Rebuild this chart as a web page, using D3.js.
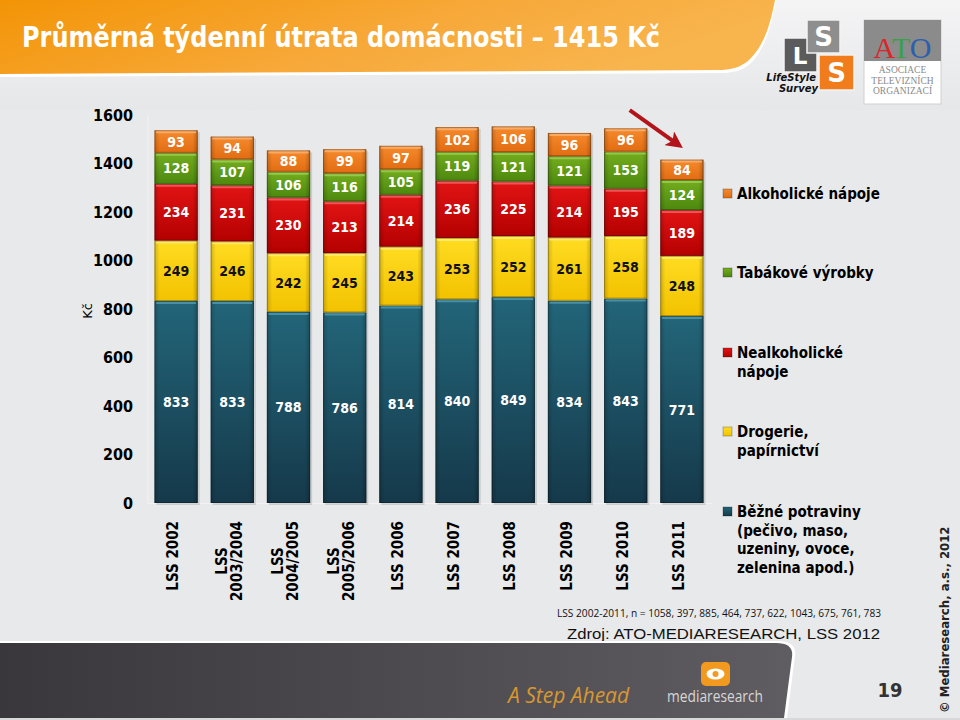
<!DOCTYPE html>
<html><head><meta charset="utf-8">
<script src="https://cdn.jsdelivr.net/npm/d3@7/dist/d3.min.js"></script>
<style>
body{margin:0;background:#e8e9eb;}
svg{display:block;}
</style></head>
<body>
<svg id="chart" width="960" height="720"></svg>
<script>
// ---------- DATA ----------
const categories = ["LSS 2002", "LSS\n2003/2004", "LSS\n2004/2005", "LSS\n2005/2006", "LSS 2006", "LSS 2007", "LSS 2008", "LSS 2009", "LSS 2010", "LSS 2011"];
const seriesKeys = ["potraviny", "drogerie", "nealko", "tabak", "alko"]; // stacking order bottom -> top
const seriesLabels = {
  alko: ["Alkoholické nápoje"],
  tabak: ["Tabákové výrobky"],
  nealko: ["Nealkoholické", "nápoje"],
  drogerie: ["Drogerie,", "papírnictví"],
  potraviny: ["Běžné potraviny", "(pečivo, maso,", "uzeniny, ovoce,", "zelenina apod.)"]
};
const potraviny = [833, 833, 788, 786, 814, 840, 849, 834, 843, 771];
const drogerie  = [249, 246, 242, 245, 243, 253, 252, 261, 258, 248];
const nealko    = [234, 231, 230, 213, 214, 236, 225, 214, 195, 189];
const tabak     = [128, 107, 106, 116, 105, 119, 121, 121, 153, 124];
const alko      = [93, 94, 88, 99, 97, 102, 106, 96, 96, 84];
const yTicks = [0, 200, 400, 600, 800, 1000, 1200, 1400, 1600];
const titleText = "Průměrná týdenní útrata domácnosti – 1415 Kč";
const footnote = "LSS 2002-2011, n = 1058, 397, 885, 464, 737, 622, 1043, 675, 761, 783";
const sourceText = "Zdroj: ATO-MEDIARESEARCH, LSS 2012";
const pageNumber = "19";
const copyright = "© Mediaresearch, a.s., 2012";

// ---------- SETUP ----------
const svg = d3.select("#chart");
const FONT = "'DejaVu Sans', Verdana, sans-serif";
const seriesValues = {potraviny, drogerie, nealko, tabak, alko};
const rows = categories.map((c, i) => {
  const r = {cat: c};
  seriesKeys.forEach(k => r[k] = seriesValues[k][i]);
  return r;
});
const colors = {
  potraviny: {top: "#236579", bot: "#15394a", hi: "#4f98ad", text: "#ffffff"},
  drogerie:  {top: "#ffdc22", bot: "#f2c200", hi: "#ffea70", text: "#111111"},
  nealko:    {top: "#e21414", bot: "#b40000", hi: "#f06060", text: "#ffffff"},
  tabak:     {top: "#74ad1e", bot: "#4c880e", hi: "#9ccc50", text: "#ffffff"},
  alko:      {top: "#f68a2c", bot: "#e26c12", hi: "#f9b070", text: "#ffffff"}
};

const defs = svg.append("defs");
seriesKeys.forEach(k => {
  const g = defs.append("linearGradient").attr("id", "g_" + k).attr("x1", 0).attr("x2", 0).attr("y1", 0).attr("y2", 1);
  g.append("stop").attr("offset", "0%").attr("stop-color", colors[k].top);
  g.append("stop").attr("offset", "100%").attr("stop-color", colors[k].bot);
  const h = defs.append("linearGradient").attr("id", "h_" + k).attr("x1", 0).attr("x2", 1).attr("y1", 0).attr("y2", 0);
  h.append("stop").attr("offset", "0%").attr("stop-color", "#000").attr("stop-opacity", 0.18);
  h.append("stop").attr("offset", "12%").attr("stop-color", "#000").attr("stop-opacity", 0);
  h.append("stop").attr("offset", "88%").attr("stop-color", "#000").attr("stop-opacity", 0);
  h.append("stop").attr("offset", "100%").attr("stop-color", "#000").attr("stop-opacity", 0.22);
});
const bg = defs.append("linearGradient").attr("id", "banner").attr("x1", 0).attr("x2", 1).attr("y1", 0).attr("y2", 0.3);
bg.append("stop").attr("offset", "0%").attr("stop-color", "#f39406");
bg.append("stop").attr("offset", "60%").attr("stop-color", "#f7a93a");
bg.append("stop").attr("offset", "100%").attr("stop-color", "#f8b54e");
const fg = defs.append("linearGradient").attr("id", "footer").attr("x1", 0).attr("x2", 1).attr("y1", 0).attr("y2", 0);
fg.append("stop").attr("offset", "0%").attr("stop-color", "#39373c");
fg.append("stop").attr("offset", "100%").attr("stop-color", "#5f5d62");
const tg = defs.append("linearGradient").attr("id", "topbg").attr("x1", 0).attr("x2", 0).attr("y1", 0).attr("y2", 1);
tg.append("stop").attr("offset", "0%").attr("stop-color", "#f4f4f5");
tg.append("stop").attr("offset", "100%").attr("stop-color", "#e6e7e9");

svg.append("rect").attr("width", 960).attr("height", 720).attr("fill", "#e8e9eb");
svg.append("rect").attr("width", 960).attr("height", 110).attr("fill", "url(#topbg)");

// ---------- HEADER ----------
svg.append("path")
  .attr("d", "M0,0 L776,0 C772,20 768,45 752,62 C745,69 738,72 725,73 L0,77 Z")
  .attr("fill", "#ffffff");
svg.append("path")
  .attr("d", "M0,0 L775,0 C771,20 766,43 750,59 C744,65 736,69 722,70 L0,74 Z")
  .attr("fill", "url(#banner)");
const title = svg.append("text").attr("x", 22).attr("y", 47)
  .attr("fill", "#ffffff").attr("font-family", FONT).attr("font-weight", "bold")
  .attr("font-size", 28).style("font-stretch", "condensed").text(titleText);
{
  const w = title.node().getComputedTextLength();
  if (Math.abs(w - 638) > 6) title.attr("textLength", 638).attr("lengthAdjust", "spacingAndGlyphs");
}

// LSS logo
svg.append("rect").attr("x", 784).attr("y", 38).attr("width", 33).attr("height", 34).attr("fill", "#5b5b5b").attr("stroke", "#f2f2f2").attr("stroke-width", 1.5);
svg.append("rect").attr("x", 807).attr("y", 20).attr("width", 33).attr("height", 33).attr("fill", "#8e8e8e").attr("stroke", "#f2f2f2").attr("stroke-width", 1.5);
svg.append("rect").attr("x", 819).attr("y", 55).attr("width", 35).attr("height", 35).attr("fill", "#f07c1c").attr("stroke", "#f2f2f2").attr("stroke-width", 1.5);
svg.append("text").attr("x", 800).attr("y", 64).attr("text-anchor", "middle").attr("fill", "#fff").attr("font-family", FONT).attr("font-weight", "bold").attr("font-size", 23).text("L");
svg.append("text").attr("x", 823.5).attr("y", 46).attr("text-anchor", "middle").attr("fill", "#fff").attr("font-family", FONT).attr("font-weight", "bold").attr("font-size", 26).text("S");
svg.append("text").attr("x", 836.5).attr("y", 82).attr("text-anchor", "middle").attr("fill", "#fff").attr("font-family", FONT).attr("font-weight", "bold").attr("font-size", 26).text("S");
svg.append("text").attr("x", 816).attr("y", 81).attr("text-anchor", "end").attr("fill", "#111").attr("font-family", FONT).attr("font-weight", "bold").attr("font-style", "italic").attr("font-size", 10).text("LifeStyle");
svg.append("text").attr("x", 818).attr("y", 92).attr("text-anchor", "end").attr("fill", "#111").attr("font-family", FONT).attr("font-weight", "bold").attr("font-style", "italic").attr("font-size", 10).text("Survey");

// ATO logo
svg.append("rect").attr("x", 864).attr("y", 20).attr("width", 77).attr("height", 84).attr("fill", "#ffffff").attr("stroke", "#d0d0d0");
svg.append("rect").attr("x", 864).attr("y", 20).attr("width", 77).attr("height", 41).attr("fill", "#8b8b8b");
const ato = svg.append("text").attr("x", 902.5).attr("y", 58).attr("text-anchor", "middle").attr("font-family", "'Liberation Serif', serif").attr("font-size", 30);
ato.append("tspan").attr("fill", "#d8262a").text("A");
ato.append("tspan").attr("fill", "#3aa04a").text("T");
ato.append("tspan").attr("fill", "#2a5fb0").text("O");
["ASOCIACE", "TELEVIZNÍCH", "ORGANIZACÍ"].forEach((t, i) => {
  svg.append("text").attr("x", 902.5).attr("y", 73 + i * 10.5).attr("text-anchor", "middle")
    .attr("fill", "#8a8a8a").attr("font-family", "'Liberation Serif', serif").attr("font-size", 9.5).text(t);
});

// ---------- CHART ----------
const x = d3.scaleBand().domain(categories).range([148, 710]).paddingInner(0.23).paddingOuter(0.115);
const y = d3.scaleLinear().domain([0, 1600]).range([503, 115]);

svg.append("line").attr("x1", 148).attr("x2", 148).attr("y1", 115).attr("y2", 503).attr("stroke", "#f3f3f4").attr("stroke-width", 1);
svg.append("line").attr("x1", 148).attr("x2", 712).attr("y1", 503.5).attr("y2", 503.5).attr("stroke", "#f3f3f4").attr("stroke-width", 1);

const yAxis = svg.append("g").attr("transform", "translate(148,0)")
  .call(d3.axisLeft(y).tickValues(yTicks).tickSize(0).tickPadding(15).tickFormat(d3.format("d")));
yAxis.select(".domain").remove();
yAxis.selectAll("text").attr("font-family", FONT).attr("font-weight", "bold").attr("font-size", 16)
  .style("font-stretch", "condensed").attr("fill", "#000");

svg.append("text").attr("transform", "translate(92,311) rotate(-90)").attr("text-anchor", "middle")
  .attr("font-family", FONT).attr("font-size", 13).attr("fill", "#000").text("Kč");

const stacked = d3.stack().keys(seriesKeys)(rows);
const bw = x.bandwidth();

svg.append("g").selectAll("rect").data(rows).join("rect")
  .attr("x", d => x(d.cat) + 2).attr("width", bw)
  .attr("y", d => y(d3.sum(seriesKeys, k => d[k])) + 2)
  .attr("height", d => y(0) - y(d3.sum(seriesKeys, k => d[k])))
  .attr("fill", "#000").attr("opacity", 0.12);

stacked.forEach(layer => {
  const k = layer.key;
  const g = svg.append("g");
  const seg = g.selectAll("g").data(layer).join("g");
  seg.append("rect")
    .attr("x", d => x(d.data.cat)).attr("width", bw)
    .attr("y", d => y(d[1])).attr("height", d => y(d[0]) - y(d[1]))
    .attr("fill", "url(#g_" + k + ")");
  seg.append("rect")
    .attr("x", d => x(d.data.cat)).attr("width", bw)
    .attr("y", d => y(d[1])).attr("height", d => y(d[0]) - y(d[1]))
    .attr("fill", "url(#h_" + k + ")");
  seg.append("rect")
    .attr("x", d => x(d.data.cat) + 1.5).attr("width", bw - 3)
    .attr("y", d => y(d[1]) + 0.5).attr("height", 2.5)
    .attr("rx", 1.2)
    .attr("fill", colors[k].hi).attr("opacity", 0.85);
  seg.append("rect")
    .attr("x", d => x(d.data.cat) + 0.5).attr("width", bw - 1)
    .attr("y", d => y(d[1]) + 0.5).attr("height", d => y(d[0]) - y(d[1]) - 1)
    .attr("fill", "none").attr("stroke", "#000").attr("stroke-opacity", 0.28).attr("stroke-width", 1);
  seg.append("text")
    .attr("x", d => x(d.data.cat) + bw / 2)
    .attr("y", d => (y(d[0]) + y(d[1])) / 2)
    .attr("dy", "0.36em").attr("text-anchor", "middle")
    .attr("font-family", FONT).attr("font-weight", "bold").attr("font-size", 14)
    .style("font-stretch", "condensed")
    .attr("fill", colors[k].text)
    .text(d => d.data[k]);
});

// x labels (rotated)
categories.forEach(c => {
  const lines = c.split("\n");
  const cx = x(c) + bw / 2;
  const lh = 14.5;
  const g = svg.append("g");
  const texts = lines.map((l) => g.append("text")
    .attr("font-family", FONT).attr("font-weight", "bold").attr("font-size", 15)
    .style("font-stretch", "condensed").attr("fill", "#000").attr("text-anchor", "middle").text(l));
  const W = d3.max(texts, t => t.node().getComputedTextLength());
  const cy = 521 + W / 2;
  texts.forEach((t, i) => {
    const off = (i - (lines.length - 1) / 2) * lh;
    t.attr("transform", `translate(${cx + off + 2},${cy}) rotate(-90)`);
  });
});

// arrow
defs.append("marker").attr("id", "arrowhead").attr("viewBox", "0 0 10 10").attr("refX", 6).attr("refY", 5)
  .attr("markerWidth", 4.2).attr("markerHeight", 4.2).attr("orient", "auto")
  .append("path").attr("d", "M0,0 L10,5 L0,10 L2.5,5 Z").attr("fill", "#b3141a");
svg.append("line").attr("x1", x("LSS 2010") + bw / 2 + 4).attr("y1", y(1620))
  .attr("x2", x("LSS 2011") + bw / 2 - 4.5).attr("y2", y(1480))
  .attr("stroke", "#b3141a").attr("stroke-width", 4).attr("marker-end", "url(#arrowhead)");

// ---------- LEGEND ----------
const legendOrder = ["alko", "tabak", "nealko", "drogerie", "potraviny"];
const legendY = {alko: 194, tabak: 273, nealko: 353, drogerie: 432, potraviny: 512};
legendOrder.forEach(k => {
  const ly = legendY[k];
  svg.append("rect").attr("x", 723).attr("y", ly - 5).attr("width", 9).attr("height", 9)
    .attr("fill", "url(#g_" + k + ")").attr("stroke", "#000").attr("stroke-opacity", 0.25);
  seriesLabels[k].forEach((t, i) => {
    svg.append("text").attr("x", 737).attr("y", ly + i * 18.5).attr("dy", "0.36em")
      .attr("font-family", FONT).attr("font-weight", "bold").attr("font-size", 15)
      .style("font-stretch", "condensed").attr("fill", "#000").text(t);
  });
});

// ---------- FOOTNOTES ----------
const fn = svg.append("text").attr("x", 557).attr("y", 617).attr("font-family", "'Open Sans', 'Liberation Sans', sans-serif")
  .attr("font-size", 11).attr("fill", "#111").text(footnote);
if (Math.abs(fn.node().getComputedTextLength() - 324) > 4) fn.attr("textLength", 324).attr("lengthAdjust", "spacingAndGlyphs");
const src = svg.append("text").attr("x", 567).attr("y", 639).attr("font-family", "'Liberation Sans', Arial, sans-serif")
  .attr("font-size", 15.5).attr("fill", "#111").text(sourceText);
if (Math.abs(src.node().getComputedTextLength() - 313) > 4) src.attr("textLength", 313).attr("lengthAdjust", "spacingAndGlyphs");

// ---------- FOOTER ----------
svg.append("path").attr("d", "M0,641 L778,641 Q797,641 795,656 L787,718 L0,718 Z").attr("fill", "#ffffff");
svg.append("path").attr("d", "M0,643 L776,643 Q794,643 792,657 L784,718 L0,718 Z").attr("fill", "url(#footer)");
svg.append("rect").attr("x", 0).attr("y", 718).attr("width", 960).attr("height", 2).attr("fill", "#d8d8da");
svg.append("text").attr("x", 508).attr("y", 703).attr("font-family", "'Open Sans', sans-serif").attr("font-style", "italic")
  .attr("font-size", 21).attr("fill", "#d9972f").text("A Step Ahead");
svg.append("rect").attr("x", 701).attr("y", 662).attr("width", 29).attr("height", 24).attr("rx", 5).attr("fill", "#f29a1f");
svg.append("ellipse").attr("cx", 715.5).attr("cy", 674).attr("rx", 9).attr("ry", 5.5).attr("fill", "#ffffff");
svg.append("circle").attr("cx", 715.5).attr("cy", 674).attr("r", 3).attr("fill", "#f29a1f");
svg.append("text").attr("x", 667).attr("y", 702).attr("font-family", "'Open Sans', sans-serif")
  .attr("font-size", 15.5).attr("fill", "#d6d6d6").attr("textLength", 96).attr("lengthAdjust", "spacingAndGlyphs").text("mediaresearch");

svg.append("text").attr("x", 890).attr("y", 697).attr("text-anchor", "middle").attr("font-family", FONT)
  .attr("font-weight", "bold").attr("font-size", 20).style("font-stretch", "condensed").attr("fill", "#333").text(pageNumber);
svg.append("text").attr("transform", "translate(949,713) rotate(-90)").attr("font-family", FONT)
  .attr("font-weight", "bold").attr("font-size", 13).style("font-stretch", "condensed").attr("fill", "#222").text(copyright);
</script>
</body></html>
